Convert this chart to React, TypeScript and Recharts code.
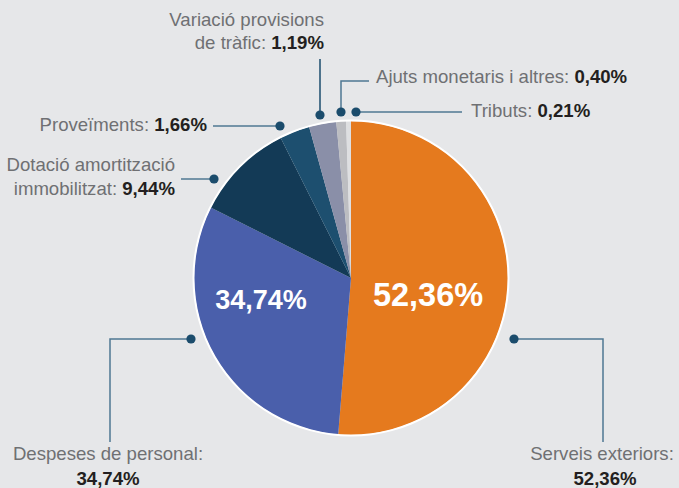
import React from "react";
import { PieChart, Pie, Cell } from "recharts";

const categories = [
  "Serveis exteriors",
  "Despeses de personal",
  "Dotació amortització immobilitzat",
  "Proveïments",
  "Variació provisions de tràfic",
  "Ajuts monetaris i altres",
  "Tributs",
];

// percentages as printed in the labels
const printedShares = [52.36, 34.74, 9.44, 1.66, 1.19, 0.4, 0.21];

// slice sizes as drawn (the small slices are drawn a bit bigger than their value)
const drawnShares = [51.3, 31.1, 10.2, 3.1, 2.8, 1.0, 0.5];

const COLORS = [
  "#e57a1e", // orange
  "#4a5fab", // blue
  "#133a56", // navy
  "#1d4f6f", // petrol
  "#8a8fa8", // lilac grey
  "#bcbdc1", // grey
  "#dedfe1", // light grey
];

const BG = "#e6e7e9";
const GREY_TEXT = "#6f7073";
const DARK_TEXT = "#231f20";
const LINE = "#4f7892";
const DOT = "#1b4c6c";
const FONT = "'Liberation Sans', Arial, Helvetica, sans-serif";
const FS = 18.6;

const fmt = (v: number) => v.toFixed(2).replace(".", ",") + "%";

const chartData = categories.map((name, i) => ({
  name,
  value: drawnShares[i],
  printed: printedShares[i],
}));

function Dot({ x, y }: { x: number; y: number }) {
  return <circle cx={x} cy={y} r={4.6} fill={DOT} />;
}

function Annotations() {
  const grey = { fill: GREY_TEXT };
  const bold = { fill: DARK_TEXT, fontWeight: 700 };
  return (
    <svg
      width={679}
      height={488}
      style={{ position: "absolute", left: 0, top: 0, pointerEvents: "none" }}
      fontFamily={FONT}
      fontSize={FS}
    >
      {/* Variació provisions de tràfic */}
      <text x={324} y={26} textAnchor="end" {...grey}>
        Variació provisions
      </text>
      <text x={324} y={49} textAnchor="end">
        <tspan {...grey}>de tràfic: </tspan>
        <tspan {...bold}>{fmt(printedShares[4])}</tspan>
      </text>
      <line x1={320} y1={59} x2={320} y2={115} stroke={DOT} strokeWidth={1.5} />
      <Dot x={320} y={115} />

      {/* Ajuts monetaris i altres */}
      <polyline points="341,112 341,81 369,81" fill="none" stroke={LINE} strokeWidth={1.5} />
      <Dot x={341} y={112} />
      <text x={376} y={83}>
        <tspan {...grey}>Ajuts monetaris i altres: </tspan>
        <tspan {...bold}>{fmt(printedShares[5])}</tspan>
      </text>

      {/* Tributs */}
      <line x1={356} y1={112} x2={462} y2={112} stroke={LINE} strokeWidth={1.5} />
      <Dot x={356} y={112} />
      <text x={471} y={117}>
        <tspan {...grey}>Tributs: </tspan>
        <tspan {...bold}>{fmt(printedShares[6])}</tspan>
      </text>

      {/* Proveïments */}
      <text x={207} y={131} textAnchor="end">
        <tspan {...grey}>Proveïments: </tspan>
        <tspan {...bold}>{fmt(printedShares[3])}</tspan>
      </text>
      <line x1={213} y1={126} x2={280} y2={126} stroke={LINE} strokeWidth={1.5} />
      <Dot x={280} y={126} />

      {/* Dotació amortització immobilitzat */}
      <text x={175} y={171} textAnchor="end" {...grey}>
        Dotació amortització
      </text>
      <text x={175} y={195} textAnchor="end">
        <tspan {...grey}>immobilitzat: </tspan>
        <tspan {...bold}>{fmt(printedShares[2])}</tspan>
      </text>
      <line x1={181} y1={179} x2={214} y2={179} stroke={LINE} strokeWidth={1.5} />
      <Dot x={214} y={179} />

      {/* Despeses de personal */}
      <polyline points="191,339 110,339 110,442" fill="none" stroke={LINE} strokeWidth={1.5} />
      <Dot x={191} y={339} />
      <text x={108} y={460} textAnchor="middle" {...grey}>
        Despeses de personal:
      </text>
      <text x={108} y={485} textAnchor="middle" {...bold}>
        {fmt(printedShares[1])}
      </text>

      {/* Serveis exteriors */}
      <polyline points="514,339 603,339 603,442" fill="none" stroke={LINE} strokeWidth={1.5} />
      <Dot x={514} y={339} />
      <text x={602} y={460} textAnchor="middle" {...grey}>
        Serveis exteriors:
      </text>
      <text x={605} y={485} textAnchor="middle" {...bold}>
        {fmt(printedShares[0])}
      </text>

      {/* inner labels */}
      <text x={428} y={306} textAnchor="middle" fill="#fff" fontWeight={700} fontSize={32.5}>
        {fmt(printedShares[0])}
      </text>
      <text x={261} y={309} textAnchor="middle" fill="#fff" fontWeight={700} fontSize={27}>
        {fmt(printedShares[1])}
      </text>
    </svg>
  );
}

export default function App() {
  return (
    <div style={{ position: "relative", width: 679, height: 488, background: BG }}>
      <style>{`body{margin:0}`}</style>
      <PieChart width={679} height={488} margin={{ top: 0, right: 0, bottom: 0, left: 0 }}>
        <Pie
          data={chartData}
          dataKey="value"
          cx={351}
          cy={278}
          outerRadius={157}
          startAngle={90}
          endAngle={-270}
          stroke="none"
          isAnimationActive={false}
        >
          {chartData.map((entry, index) => (
            <Cell key={`cell-${index}`} fill={COLORS[index % COLORS.length]} />
          ))}
        </Pie>
        <Pie
          data={[{ value: 1 }]}
          dataKey="value"
          cx={351}
          cy={278}
          innerRadius={156.5}
          outerRadius={158.5}
          fill="#ffffff"
          stroke="none"
          isAnimationActive={false}
        />
      </PieChart>
      <Annotations />
    </div>
  );
}
